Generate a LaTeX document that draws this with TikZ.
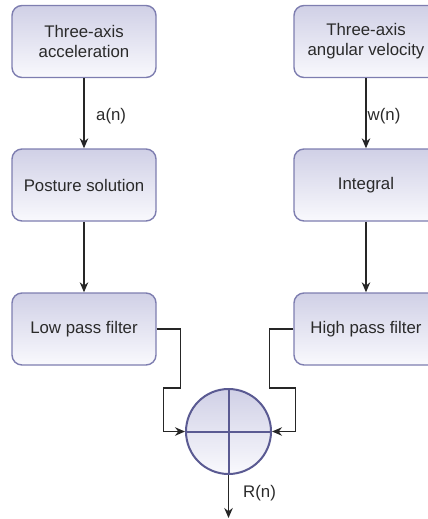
\documentclass[tikz,border=0pt]{standalone}
\usepackage{fontspec}
\setmainfont{Liberation Sans}
\usetikzlibrary{arrows.meta}
\definecolor{boxedge}{HTML}{7E7EB0}
\definecolor{boxtop}{HTML}{D0D0E6}
\definecolor{boxbot}{HTML}{F9F9FD}
\definecolor{sumedge}{HTML}{5A5A92}
\definecolor{wire}{HTML}{262626}
\definecolor{ink}{HTML}{2A2A2A}
\begin{document}
\begin{tikzpicture}[x=1pt,y=-1pt,
  block/.style={rectangle, rounded corners=10pt, draw=boxedge, line width=1.4pt,
    top color=boxtop, bottom color=boxbot, minimum width=144pt, minimum height=72pt,
    inner sep=2pt, align=center, text=ink, font=\fontsize{16.8}{20}\selectfont},
  summer/.style={circle, draw=sumedge, line width=2pt, top color=boxtop,
    bottom color=boxbot, minimum size=85pt, inner sep=0pt},
  flow/.style={draw=wire, line width=1.3pt, -{Stealth[length=10pt,width=8.5pt]}},
  sig/.style={text=ink, font=\fontsize{16.8}{20}\selectfont, inner sep=0pt, anchor=west}]
\useasboundingbox (0,0) rectangle (428,519);

% left chain: accelerometer path
\node[block] (acc) at (84,41.5) {Three-axis\\acceleration};
\node[block] (pos) at (84,185) {Posture solution};
\node[block] (lpf) at (84,329) {Low pass filter};

% right chain: gyroscope path
\node[block] (gyr) at (366,41.5) {Three-axis\\angular velocity};
\node[block] (int) at (366,185) {Integral};
\node[block] (hpf) at (366,329) {High pass filter};

% summing junction
\node[summer] (sum) at (228.5,431.5) {};
\draw[sumedge, line width=2pt] (sum.north) -- (sum.south);
\draw[sumedge, line width=2pt] (sum.west) -- (sum.east);
\coordinate (out) at (228.5,518);

% connectors
\draw[flow] (acc) -- (pos);
\draw[flow] (pos) -- (lpf);
\draw[flow] (gyr) -- (int);
\draw[flow] (int) -- (hpf);
\draw[flow] (lpf.east) -- ++(24,0) -- ++(0,59) -- ++(-17,0) |- (sum.west);
\draw[flow] (hpf.west) -- ++(-24,0) -- ++(0,59) -- ++(26,0) |- (sum.east);
\draw[flow] (sum.south) -- (out);

% signal labels
\node[sig] (an) at (96,116) {a(n)};
\node[sig] (wn) at (367.5,116) {w(n)};
\node[sig] (rn) at (243,493) {R(n)};
\end{tikzpicture}
\end{document}
